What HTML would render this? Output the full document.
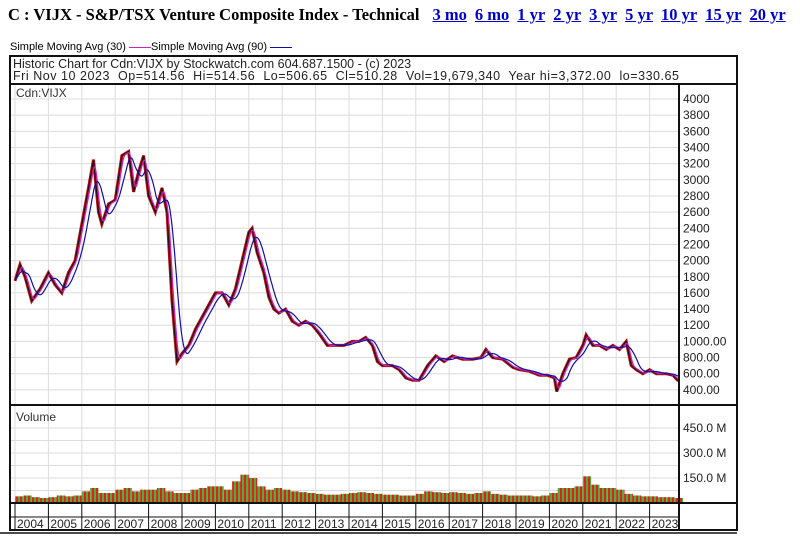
<!DOCTYPE html>
<html><head><meta charset="utf-8"><style>
body{margin:0;background:#fff;width:800px;height:537px;overflow:hidden;position:relative;font-family:"Liberation Sans",sans-serif}
#title{position:absolute;left:8px;top:5px;font:bold 16.5px "Liberation Serif",serif;white-space:nowrap}
#title a{color:#00c;text-decoration:underline;margin-left:8px}
#title a.first{margin-left:13px}
#legend{position:absolute;left:10px;top:41px;font-size:11px;white-space:nowrap}
svg{position:absolute;left:0;top:0}
</style></head><body>
<div id="title">C : VIJX - S&amp;P/TSX Venture Composite Index - Technical<a class="first">3 mo</a><a>6 mo</a><a>1 yr</a><a>2 yr</a><a>3 yr</a><a>5 yr</a><a>10 yr</a><a>15 yr</a><a>20 yr</a></div>
<div id="legend">Simple Moving Avg (30) <span style="display:inline-block;width:22px;border-top:1px solid #d020c0;vertical-align:middle"></span>Simple Moving Avg (90) <span style="display:inline-block;width:22px;border-top:1px solid #1010a0;vertical-align:middle"></span></div>
<svg id="chart" width="800" height="537"></svg>
<script>
const dates=[2004.0,2004.15,2004.3,2004.5,2004.75,2005.0,2005.2,2005.4,2005.6,2005.8,2006.0,2006.2,2006.35,2006.5,2006.6,2006.8,2007.0,2007.2,2007.4,2007.55,2007.7,2007.85,2008.0,2008.2,2008.4,2008.55,2008.7,2008.85,2009.0,2009.2,2009.4,2009.6,2009.8,2010.0,2010.2,2010.4,2010.6,2010.8,2011.0,2011.1,2011.25,2011.45,2011.6,2011.75,2011.9,2012.1,2012.3,2012.5,2012.7,2012.9,2013.1,2013.35,2013.6,2013.85,2014.1,2014.3,2014.5,2014.7,2014.85,2015.0,2015.3,2015.5,2015.7,2015.9,2016.1,2016.35,2016.6,2016.85,2017.1,2017.4,2017.7,2017.95,2018.1,2018.3,2018.6,2018.9,2019.1,2019.4,2019.7,2019.95,2020.15,2020.22,2020.4,2020.6,2020.8,2021.0,2021.1,2021.3,2021.5,2021.7,2021.9,2022.1,2022.3,2022.45,2022.6,2022.8,2023.0,2023.2,2023.5,2023.7,2023.86];
const closes=[1750,1950,1800,1500,1650,1850,1700,1600,1850,2000,2450,2900,3250,2600,2450,2700,2750,3300,3350,2850,3100,3300,2800,2600,2900,2600,1500,750,850,950,1150,1300,1450,1600,1600,1450,1650,2000,2350,2400,2100,1850,1550,1400,1350,1400,1250,1200,1250,1200,1100,950,950,950,1000,1000,1050,950,750,700,700,650,550,520,520,700,820,750,820,780,780,800,900,800,780,680,650,630,580,580,550,380,600,780,800,950,1080,950,950,900,950,900,1000,700,650,600,650,600,600,580,510];
const volumes=[40,45,35,30,35,45,40,45,70,90,60,60,80,90,70,80,80,90,70,60,60,80,90,100,100,80,130,170,150,100,80,90,80,70,65,60,55,50,50,55,60,65,60,55,50,50,45,45,55,70,65,60,65,60,55,60,70,55,50,45,45,45,40,45,60,90,90,100,160,110,90,90,80,55,45,40,40,35,35,30];
const priceTicks=[4000,3800,3600,3400,3200,3000,2800,2600,2400,2200,2000,1800,1600,1400,1200,1000,800,600,400];
const priceTickLabels=["4000","3800","3600","3400","3200","3000","2800","2600","2400","2200","2000","1800","1600","1400","1200","1000.00","800.00","600.00","400.00"];
const volTicks=[150,300,450];
const volTickLabels=["150.0 M","300.0 M","450.0 M"];
const years=[2004,2005,2006,2007,2008,2009,2010,2011,2012,2013,2014,2015,2016,2017,2018,2019,2020,2021,2022,2023];

const NS="http://www.w3.org/2000/svg";
const svg=document.getElementById('chart');
function mk(t,a,p){const e=document.createElementNS(NS,t);for(const k in a)e.setAttribute(k,a[k]);(p||svg).appendChild(e);return e;}
const X=t=>15+(t-2004)*33.4;
const Y=v=>99+(4000-v)*0.0808;
const VY=v=>503-v*(50/300);
const L=10,R=679,RA=737;
const grid=mk('g',{});
years.forEach(y=>{mk('line',{x1:X(y),x2:X(y),y1:84,y2:503,stroke:'#dcdcdc'},grid);});
priceTicks.forEach(v=>{mk('line',{x1:L,x2:R,y1:Y(v),y2:Y(v),stroke:'#dcdcdc'},grid);});
volTicks.concat([75,225,375]).forEach(v=>{mk('line',{x1:L,x2:R,y1:VY(v),y2:VY(v),stroke:'#dcdcdc'},grid);});
priceTicks.forEach((v,i)=>{const t=mk('text',{x:683,y:Y(v)+4,'font-size':12,fill:'#222'});t.textContent=priceTickLabels[i];});
volTicks.forEach((v,i)=>{const t=mk('text',{x:683,y:VY(v)+4,'font-size':12,fill:'#222'});t.textContent=volTickLabels[i];});
const defs=mk('defs',{});
const pat=mk('pattern',{id:'vp',width:4,height:4,patternUnits:'userSpaceOnUse'},defs);
mk('rect',{x:0,y:0,width:2,height:4,fill:'#e0201c'},pat);mk('rect',{x:2,y:0,width:2,height:4,fill:'#4caf3c'},pat);
volumes.forEach((v,i)=>{const t0=2004+i*0.25;const x0=X(t0),x1=X(t0+0.25);
 const r=mk('rect',{x:x0,y:VY(v),width:x1-x0,height:503-VY(v),fill:'url(#vp)'});
 });
function interp(t){for(let i=1;i<dates.length;i++){if(t<=dates[i]){const f=(t-dates[i-1])/(dates[i]-dates[i-1]);return closes[i-1]+f*(closes[i]-closes[i-1]);}}return closes[closes.length-1];}
const step=0.02,ts=[],vs=[];for(let t=dates[0];t<=dates[dates.length-1]+1e-9;t+=step){ts.push(t);vs.push(interp(t));}
function sma(n){return vs.map((_,i)=>{const a=Math.max(0,i-n+1);let s=0;for(let j=a;j<=i;j++)s+=vs[j];return s/(i-a+1);});}
const s90=sma(18),s30=sma(6);
const pts=(arr)=>arr.map((v,i)=>X(ts[i]).toFixed(1)+','+Y(v).toFixed(1)).join(' ');
let p=mk('polyline',{points:dates.map((d,i)=>X(d).toFixed(1)+','+Y(closes[i]).toFixed(1)).join(' '),fill:'none',stroke:'#b01010','stroke-width':3});

p=mk('polyline',{points:dates.map((d,i)=>X(d).toFixed(1)+','+Y(closes[i]).toFixed(1)).join(' '),fill:'none',stroke:'#111','stroke-width':1});

p=mk('polyline',{points:pts(s30),fill:'none',stroke:'#d020c0','stroke-width':1.2});

p=mk('polyline',{points:pts(s90),fill:'none',stroke:'#1010a0','stroke-width':1.2});

const fr=mk('g',{fill:'none',stroke:'#111','stroke-width':2});
mk('rect',{x:L,y:56,width:RA-L,height:474},fr);
mk('line',{x1:L,x2:RA,y1:84,y2:84},fr);
mk('line',{x1:R,x2:R,y1:84,y2:530},fr);
mk('line',{x1:L,x2:RA,y1:405,y2:405},fr);
mk('line',{x1:L,x2:RA,y1:503,y2:503},fr);
mk('line',{x1:L,x2:R,y1:517,y2:517,'stroke-width':1},fr);
mk('line',{x1:0,x2:RA,y1:533,y2:533,'stroke-width':1.5},fr);
years.forEach(y=>{mk('line',{x1:X(y),x2:X(y),y1:503,y2:530,'stroke-width':1},fr);
 const t=mk('text',{x:X(y)+2,y:528,'font-size':12,fill:'#222'});t.textContent=y;});
[["Historic Chart for Cdn:VIJX by Stockwatch.com 604.687.1500 - (c) 2023",68,null],["Fri Nov 10 2023  Op=514.56  Hi=514.56  Lo=506.65  Cl=510.28  Vol=19,679,340  Year hi=3,372.00  lo=330.65",80,666]].forEach(([s,y,w])=>{const a={x:13,y:y,'font-size':12.5,fill:'#222',style:'white-space:pre'};if(w){a.textLength=w;a.lengthAdjust='spacing';}const t=mk('text',a);t.textContent=s;});
let t=mk('text',{x:16,y:97,'font-size':12,fill:'#333'});t.textContent='Cdn:VIJX';
t=mk('text',{x:16,y:421,'font-size':12,fill:'#333'});t.textContent='Volume';
</script>
</body></html>
